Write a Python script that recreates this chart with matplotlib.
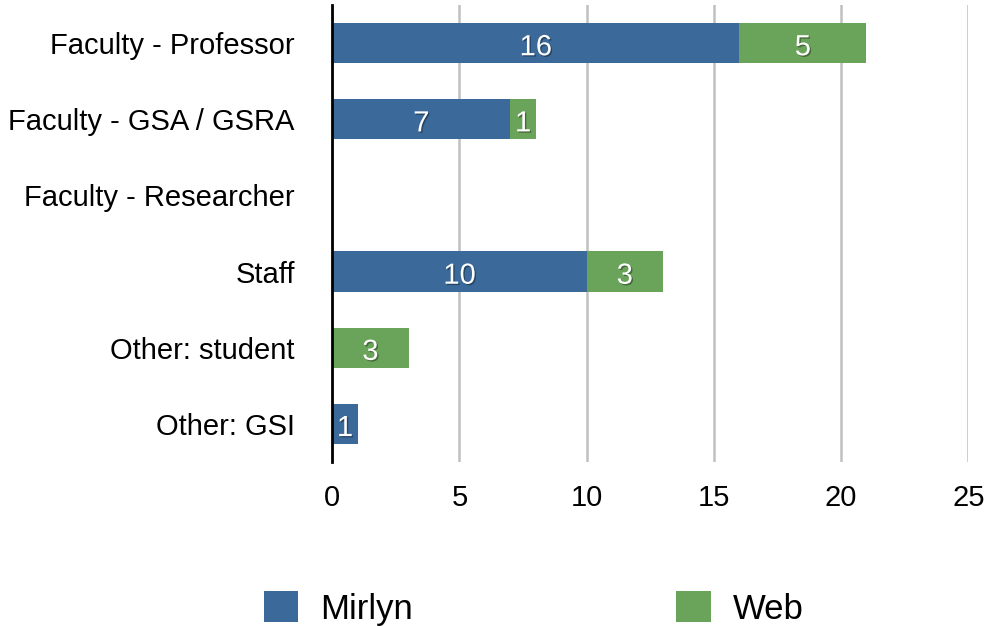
import matplotlib
matplotlib.use("Agg")
import matplotlib.pyplot as plt
import matplotlib.patheffects as pe
import numpy as np

categories = ["Faculty - Professor", "Faculty - GSA / GSRA", "Faculty - Researcher",
              "Staff", "Other: student", "Other: GSI"]
mirlyn = [16, 7, 0, 10, 0, 1]
web = [5, 1, 0, 3, 3, 0]
x_ticks = [0, 5, 10, 15, 20, 25]

BLUE = "#3B6A9A"
GREEN = "#6AA45A"

plt.rcParams["font.family"] = ["Liberation Sans", "DejaVu Sans"]

fig = plt.figure(figsize=(9.86, 6.26), dpi=100)
ax = fig.add_axes([0.337, 0.262, 0.645, 0.73])

y = np.arange(len(categories))
b1 = ax.barh(y, mirlyn, height=0.53, color=BLUE, label="Mirlyn", zorder=3)
b2 = ax.barh(y, web, left=mirlyn, height=0.53, color=GREEN, label="Web", zorder=3)

shadow = [pe.withSimplePatchShadow(offset=(1, -1), alpha=0.35, shadow_rgbFace="black")]
for bars, vals in ((b1, mirlyn), (b2, web)):
    labels = [str(v) if v else "" for v in vals]
    texts = ax.bar_label(bars, labels=labels, label_type="center", color="white",
                         fontsize=21, zorder=4)
    for t in texts:
        t.set_path_effects(shadow)
        t.xyann = (0, -3)

ax.set_ylim(len(categories) - 0.5, -0.5)
ax.set_xlim(0, 25)
ax.set_yticks(y)
ax.set_yticklabels(categories, fontsize=21)
ax.set_xticks(x_ticks)
ax.set_xticklabels([str(v) for v in x_ticks], fontsize=21)
ax.tick_params(axis="y", length=0, pad=27)
ax.tick_params(axis="x", length=0, pad=16)

ax.grid(axis="x", color="#c0c0c0", linewidth=1.8, zorder=0)
for s in ("top", "right", "bottom"):
    ax.spines[s].set_visible(False)
ax.spines["left"].set_linewidth(2)
ax.spines["left"].set_color("black")
ax.spines["left"].set_zorder(5)

fig.legend(handles=[b1, b2], loc="lower left", bbox_to_anchor=(0.262, -0.008),
           ncol=2, frameon=False, fontsize=25, handlelength=1.0, handleheight=1.0,
           columnspacing=7.6, handletextpad=0.62, borderpad=0.15, borderaxespad=0)

fig.savefig("out.png", dpi=100)
